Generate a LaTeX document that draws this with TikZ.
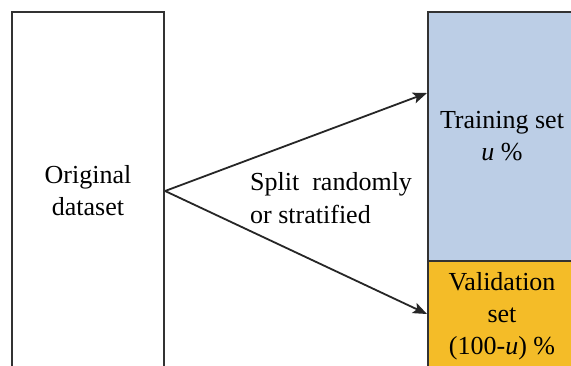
\documentclass[tikz,border=0pt]{standalone}
\usepackage{fontspec}
\setmainfont{Liberation Serif}
\usetikzlibrary{arrows.meta}
\definecolor{trainblue}{RGB}{188,206,230}
\definecolor{valorange}{RGB}{244,188,40}
\definecolor{edgegray}{RGB}{50,50,50}
\tikzset{
  box/.style={draw=edgegray, line width=2.2pt, rectangle, inner sep=0pt, align=center,
    font=\fontsize{26}{32}\selectfont},
  lbl/.style={inner sep=0pt, anchor=west, font=\fontsize{26}{32}\selectfont},
  conn/.style={draw=black!85, line width=1.8pt, -{Stealth[length=14pt,width=11pt,inset=3pt]}}
}
\begin{document}
\begin{tikzpicture}[x=1pt,y=-1pt]
\useasboundingbox (0,0) rectangle (571,365);
\clip (0,0) rectangle (571,365);
\fill[white] (0,0) rectangle (571,365);
\node[box, minimum width=152pt, minimum height=358pt] (orig) at (88,191) {Original\\dataset};
\node[box, fill=trainblue, minimum width=148pt, minimum height=249pt] (train) at (502,136.5) {Training set\\\textit{u} \%};
\node[box, fill=valorange, minimum width=148pt, minimum height=110pt] (val) at (502,316) {Validation\\set\\(100-\textit{u}) \%};
\coordinate (tin) at (427,93);
\coordinate (vin) at (427,314);
\draw[conn] (orig.east) -- (tin);
\draw[conn] (orig.east) -- (vin);
\node[lbl] (split) at (250,184) {Split\ \ randomly};
\node[lbl] (strat) at (250,214) {or stratified};
\end{tikzpicture}
\end{document}
